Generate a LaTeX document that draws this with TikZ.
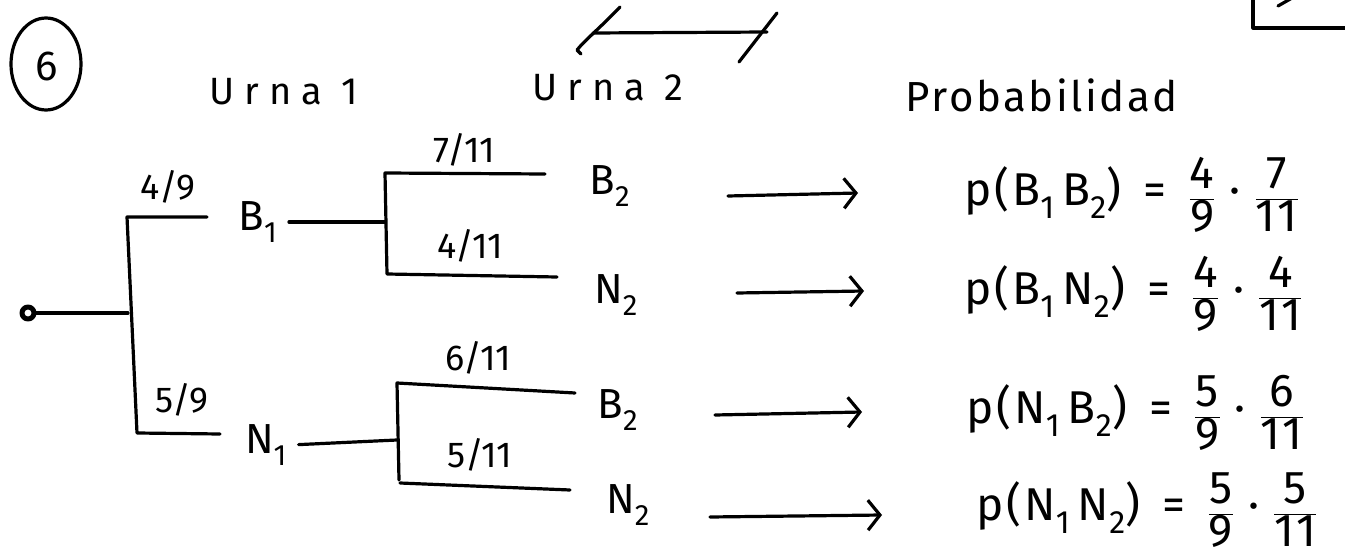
\documentclass[tikz,border=0pt]{standalone}
\usepackage{fontspec}
\setmainfont{Fira Sans}
\usetikzlibrary{arrows.meta}
\newcommand\fr[2]{\ensuremath{\displaystyle\frac{\hbox{#1}}{\hbox{#2}}}}
\newcommand\eqs{\hspace{22pt}=\hspace{22pt}}
\newcommand\dts{\hspace{14pt}·\hspace{14pt}}
\begin{document}
\begin{tikzpicture}[x=1pt,y=-1pt,line width=3.2pt,line cap=round,line join=round,
  head/.style={inner sep=0pt,font=\fontsize{38}{40}\selectfont\addfontfeatures{LetterSpace=26}},
  lbl/.style={inner sep=0pt,font=\fontsize{36}{40}\selectfont},
  ev/.style={inner sep=2pt,font=\fontsize{42}{46}\selectfont},
  fml/.style={inner sep=0pt,anchor=west,font=\fontsize{46}{50}\selectfont\addfontfeatures{LetterSpace=6}},
  arr/.style={-{Straight Barb[length=12pt,width=30pt,line width=3.2pt]}}]
\fill[white] (0,0) rectangle (1345,559);
\useasboundingbox (0,0) rectangle (1345,559);
% circled number
\draw (46,64) ellipse [x radius=35, y radius=46];
\node[ev] (six) at (47,66) {6};
% headers
\node[head] (u1) at (284,92) {Urna 1};
\node[head] (u2) at (608,88) {Urna 2};
\node[head,font=\fontsize{42}{44}\selectfont\addfontfeatures{LetterSpace=6}] (prob) at (1042,95) {Probabilidad};
% mark above Urna 2
\draw (593,33) -- (767,32);
\draw (620,7) .. controls (600,28) and (585,40) .. (577,50) -- (581,54);
\draw (777,13) -- (739,62);
% top-right box corner
\draw (1253,-5) -- (1253,28) -- (1350,28);
\draw (1278,6) -- (1292,-2);
% tree level 1
\node[circle,draw,line width=5pt,minimum size=12pt,inner sep=0pt] (root) at (28,313) {};
\coordinate (k0) at (128,313);
\draw (root) -- (k0);
\draw (207,217) -- (127,217) -- (137,433) -- (220,434);
\node[lbl] (p49) at (168,187) {4/9};
\node[lbl] (p59) at (182,400) {5/9};
\node[ev] (b1) at (258,222) {B\textsubscript{1}};
\node[ev] (n1) at (266,445) {N\textsubscript{1}};
% tree level 2, upper
\coordinate (k1) at (385,222);
\draw[shorten <=8pt] (b1.east) -- (k1);
\draw (545,174) -- (385,173) -- (387,274) -- (557,277);
\node[lbl] (p711) at (464,150) {7/11};
\node[lbl] (p411) at (470,246) {4/11};
\node[ev] (b2a) at (610,186) {B\textsubscript{2}};
\node[ev] (n2a) at (616,295) {N\textsubscript{2}};
% tree level 2, lower
\coordinate (k2) at (397,440);
\draw[shorten <=8pt] (n1.east) -- (k2);
\draw (575,393) -- (397,383) -- (399,480);
\draw (400,483) -- (570,490);
\node[lbl] (p611) at (478,358) {6/11};
\node[lbl] (p511) at (480,455) {5/11};
\node[ev] (b2b) at (618,410) {B\textsubscript{2}};
\node[ev] (n2b) at (628,505) {N\textsubscript{2}};
% formulas
\node[fml] (f1) at (963,195) {p(B\textsubscript{1}\,B\textsubscript{2})\eqs\fr{4}{9}\dts\fr{7}{11}};
\node[fml] (f2) at (963,294) {p(B\textsubscript{1}\,N\textsubscript{2})\eqs\fr{4}{9}\dts\fr{4}{11}};
\node[fml] (f3) at (965,413) {p(N\textsubscript{1}\,B\textsubscript{2})\eqs\fr{5}{9}\dts\fr{6}{11}};
\node[fml] (f4) at (975,510) {p(N\textsubscript{1}\,N\textsubscript{2})\eqs\fr{5}{9}\dts\fr{5}{11}};
% arrows
\coordinate (s1) at (728,196); \coordinate (e1) at (858,193);
\coordinate (s2) at (737,293); \coordinate (e2) at (864,291);
\coordinate (s3) at (715,415); \coordinate (e3) at (862,412);
\coordinate (s4) at (710,517); \coordinate (e4) at (882,515);
\draw[arr] (s1) -- (e1);
\draw[arr] (s2) -- (e2);
\draw[arr] (s3) -- (e3);
\draw[arr] (s4) -- (e4);
\end{tikzpicture}
\end{document}
